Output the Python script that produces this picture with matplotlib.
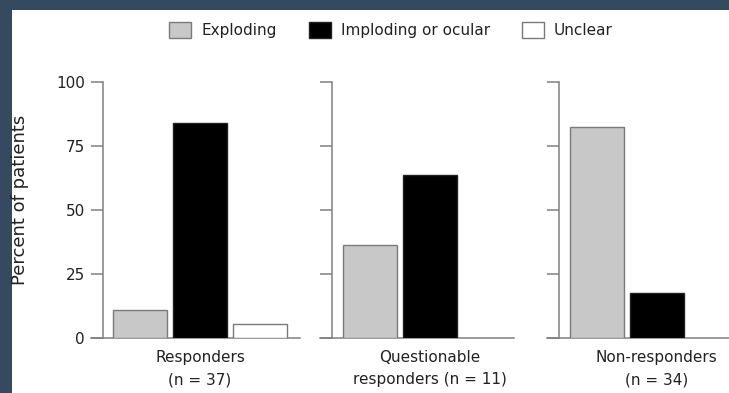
import numpy as np
import matplotlib.pyplot as plt
from matplotlib.patches import Rectangle

# Datos (porcentaje de pacientes por grupo)
grupos = ['Responders\n(n = 37)', 'Questionable\nresponders (n = 11)', 'Non-responders\n(n = 34)']
series = ['Exploding', 'Imploding or ocular', 'Unclear']
exploding = [10.8, 36.4, 82.4]
imploding = [83.8, 63.6, 17.6]
unclear = [5.4, 0, 0]
yticks = [0, 25, 50, 75, 100]

colores = ['#c8c8c8', '#000000', '#ffffff']
bordes = ['#7a7a7a', '#222222', '#7a7a7a']
gris = '#808080'
texto = '#222222'

W, H = 729, 393
fig = plt.figure(figsize=(W / 100, H / 100), dpi=100, facecolor='#354a5f')
fig.add_artist(Rectangle((12 / W, 0), 1, 1 - 10 / H, transform=fig.transFigure,
                         facecolor='white', edgecolor='none', zorder=0))

# Posiciones de cada panel en pixeles: eje y, fin del eje x, centro de la primera barra
spine_px = [102.7, 332, 559]
fin_px = [300, 514, 729]
centro_px = [140, 369.5, 596.5]
paso = 60.0  # pixeles por unidad de x
tick_len = 11.7
y0_px, y100_px = 337.7, 82

valores = np.array([exploding, imploding, unclear])
handles = []
for i in range(3):
    izq = spine_px[i] - tick_len
    ax = fig.add_axes([izq / W, (H - y0_px) / H, (fin_px[i] - izq) / W, (y0_px - y100_px) / H])
    ax.set_facecolor('none')
    x = np.arange(3)
    for j in range(3):
        if valores[j, i] > 0:
            b = ax.bar(x[j], valores[j, i], width=0.9, color=colores[j],
                       edgecolor=bordes[j], linewidth=1.0, label=series[j], zorder=3)
            if i == 0:
                handles.append(b)
    ax.set_xlim((izq - centro_px[i]) / paso, (fin_px[i] - centro_px[i]) / paso)
    ax.set_ylim(0, 100)
    ax.spines['top'].set_visible(False)
    ax.spines['right'].set_visible(False)
    ax.spines['left'].set_position(('data', (spine_px[i] - centro_px[i]) / paso))
    for s in ['left', 'bottom']:
        ax.spines[s].set_color(gris)
        ax.spines[s].set_linewidth(1.1)
    ax.set_yticks(yticks)
    ax.tick_params(axis='y', length=8.4, width=1.1, color=gris, pad=4.3,
                   labelsize=11, labelcolor=texto)
    if i > 0:
        ax.set_yticklabels([])
    ax.set_xticks([1])
    ax.set_xticklabels([grupos[i]], fontsize=11, linespacing=1.6, color=texto)
    ax.tick_params(axis='x', length=0, pad=9)

fig.text(20 / W, 1 - 200 / H, 'Percent of patients', rotation=90,
         ha='center', va='center', fontsize=13, color=texto)

leg = fig.legend(handles=handles, labels=series, loc='center', ncol=3, frameon=False,
                 bbox_to_anchor=(391 / W, 1 - 30 / H), fontsize=11,
                 handlelength=1.45, handleheight=1.3, handletextpad=0.65, columnspacing=2.1)
for t in leg.get_texts():
    t.set_color(texto)

fig.savefig('out.png', dpi=100, facecolor=fig.get_facecolor())
